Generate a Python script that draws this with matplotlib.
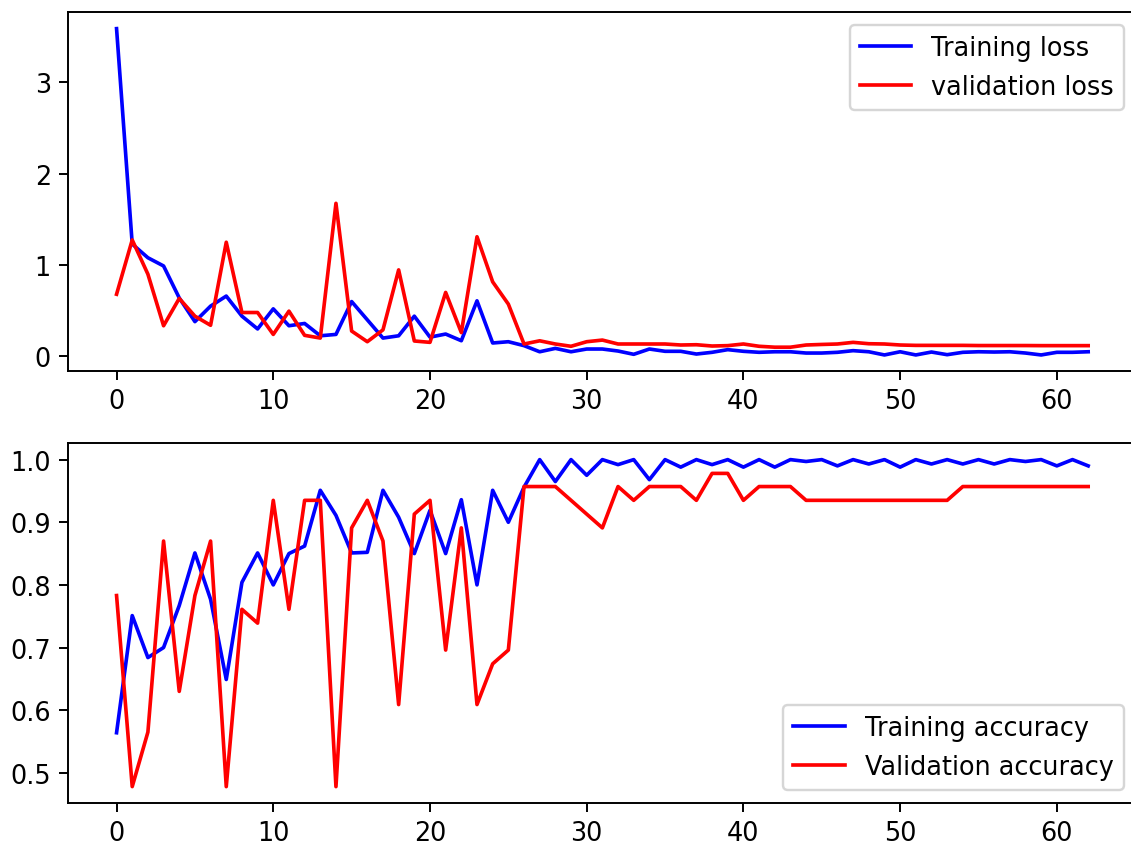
import matplotlib
matplotlib.use("Agg")
import matplotlib.pyplot as plt
import numpy as np

train_loss = [3.59, 1.23, 1.08, 0.99, 0.64, 0.38, 0.55, 0.66, 0.44, 0.30,
              0.52, 0.335, 0.36, 0.225, 0.24, 0.60, 0.40, 0.20, 0.225, 0.44,
              0.21, 0.244, 0.171, 0.608, 0.146, 0.16, 0.117, 0.05, 0.087, 0.05,
              0.08, 0.08, 0.058, 0.022, 0.08, 0.055, 0.055, 0.025, 0.044, 0.073,
              0.055, 0.044, 0.05, 0.05, 0.036, 0.036, 0.044, 0.062, 0.05, 0.015,
              0.05, 0.015, 0.047, 0.018, 0.044, 0.05, 0.047, 0.05, 0.036, 0.015,
              0.044, 0.044, 0.05]
val_loss = [0.68, 1.275, 0.90, 0.335, 0.634, 0.44, 0.34, 1.25, 0.48, 0.48,
            0.24, 0.495, 0.23, 0.20, 1.676, 0.277, 0.16, 0.29, 0.947, 0.168,
            0.153, 0.70, 0.26, 1.31, 0.816, 0.572, 0.135, 0.17, 0.135, 0.11,
            0.16, 0.178, 0.135, 0.135, 0.135, 0.135, 0.124, 0.127, 0.113, 0.117,
            0.135, 0.11, 0.10, 0.10, 0.124, 0.13, 0.135, 0.153, 0.138, 0.135,
            0.124, 0.12, 0.12, 0.12, 0.12, 0.118, 0.118, 0.118, 0.118, 0.117,
            0.117, 0.117, 0.117]
train_acc = [0.564, 0.751, 0.684, 0.700, 0.767, 0.851, 0.777, 0.649, 0.804, 0.851,
             0.800, 0.850, 0.862, 0.951, 0.911, 0.851, 0.852, 0.951, 0.908, 0.850,
             0.919, 0.850, 0.936, 0.800, 0.951, 0.900, 0.956, 1.0, 0.965, 1.0,
             0.975, 1.0, 0.992, 1.0, 0.968, 1.0, 0.988, 1.0, 0.992, 1.0,
             0.988, 1.0, 0.988, 1.0, 0.997, 1.0, 0.990, 1.0, 0.993, 1.0,
             0.988, 1.0, 0.993, 1.0, 0.993, 1.0, 0.993, 1.0, 0.997, 1.0,
             0.990, 1.0, 0.990]
val_acc = [0.783, 0.478, 0.565, 0.870, 0.630, 0.783, 0.870, 0.478, 0.761, 0.739,
           0.935, 0.761, 0.935, 0.935, 0.478, 0.891, 0.935, 0.870, 0.609, 0.913,
           0.935, 0.696, 0.891, 0.609, 0.674, 0.696, 0.957, 0.957, 0.957, 0.935,
           0.913, 0.891, 0.957, 0.935, 0.957, 0.957, 0.957, 0.935, 0.978, 0.978,
           0.935, 0.957, 0.957, 0.957] + [0.935] * 10 + [0.957] * 9

epochs = np.arange(len(train_loss))

plt.rcParams['font.size'] = 10.5

fig = plt.figure(figsize=(1131 / 175, 843 / 175), dpi=175)

# axes run a bit past the right edge, like the cropped original
ax1 = fig.add_axes([0.0601, 0.5584, 0.9450, 0.4258])
ax1.plot(epochs, train_loss, 'b', label='Training loss')
ax1.plot(epochs, val_loss, 'r', label='validation loss')
ax1.legend(loc='upper right')

ax2 = fig.add_axes([0.0601, 0.0463, 0.9450, 0.4267])
ax2.plot(epochs, train_acc, 'b', label='Training accuracy')
ax2.plot(epochs, val_acc, 'r', label='Validation accuracy')
ax2.legend(loc='lower right')

fig.savefig('out.png', dpi=175)
